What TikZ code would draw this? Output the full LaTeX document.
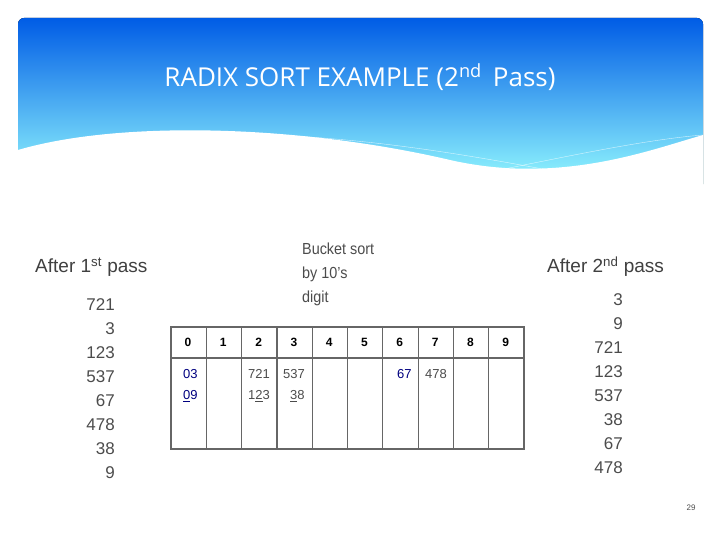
\documentclass[tikz,border=0pt]{standalone}
\usepackage{fontspec}
\setmainfont{Liberation Sans}
\newfontfamily\titlef{Open Sans}
\begin{document}
\begin{tikzpicture}[x=1pt,y=-1pt,
  num/.style={anchor=east,font=\fontsize{17}{17}\selectfont,text=black!70,inner sep=0},
  lbl/.style={anchor=west,font=\fontsize{19}{19}\selectfont,text=black!75,inner sep=0},
  cell/.style={font=\fontsize{13}{13}\selectfont,text=black!70,inner sep=0},
  hd/.style={font=\bfseries\fontsize{12}{12}\selectfont,inner sep=0}]
\useasboundingbox (0,0) rectangle (720,540);
\fill[white] (0,0) rectangle (720,540);
\fill[top color=blue!60!cyan!90!black, bottom color=cyan!40, rounded corners=6]
  (18,18) rectangle (703,190);
\fill[white] (18,150) .. controls (120,120) and (300,125) .. (450,160)
  .. controls (560,185) and (650,150) .. (703,135) -- (703,200) -- (18,200) -- cycle;
\draw[white,opacity=0.7] (200,135) .. controls (350,130) and (500,160) .. (650,190);
\draw[white,opacity=0.7] (450,180) .. controls (550,160) and (640,140) .. (703,135);
\node[text=white,font=\titlef\fontsize{26}{26}\selectfont] (title) at (360,77) {RADIX SORT EXAMPLE (2\textsuperscript{nd}\, Pass)};
\node[lbl] (a1) at (35,267) {After 1\textsuperscript{st} pass};
\node[lbl] (a2) at (547,267) {After 2\textsuperscript{nd} pass};
\node[anchor=north west,align=left,font=\fontsize{16}{24}\selectfont,text=black!70,inner sep=0,xscale=0.9] (bs) at (302,243) {Bucket sort\\by 10's\\digit};
\foreach \v [count=\i] in {721,3,123,537,67,478,38,9}
  \node[num] (l\i) at (115,281+24*\i) {\v};
\foreach \v [count=\i] in {3,9,721,123,537,38,67,478}
  \node[num] (r\i) at (623,276+24*\i) {\v};
\draw[black!60,line width=1.2] (171,327) rectangle (524,449);
\draw[black!60,line width=1.5] (171,358) -- (524,358);
\foreach \i in {1,...,9} \draw[black!60,line width=1.2] (171+35.3*\i,327) -- (171+35.3*\i,449);
\foreach \i in {0,...,9} \node[hd] (h\i) at (188+35.3*\i,342) {\i};
\node[cell,text=blue!50!black,anchor=west] (c1) at (183,374) {03};
\node[cell,text=blue!50!black,anchor=west] (c2) at (183,396) {\underline{0}9};
\node[cell,anchor=west] (c3) at (248,374) {721};
\node[cell,anchor=west] (c4) at (248,396) {1\underline{2}3};
\node[cell,anchor=west] (c5) at (283,374) {537};
\node[cell,anchor=west] (c6) at (290,396) {\underline{3}8};
\node[cell,text=blue!50!black,anchor=west] (c7) at (397,374) {67};
\node[cell,anchor=west] (c8) at (425,374) {478};
\node[font=\fontsize{8}{8}\selectfont,text=black!70] (pg) at (691,508) {29};
\end{tikzpicture}
\end{document}
